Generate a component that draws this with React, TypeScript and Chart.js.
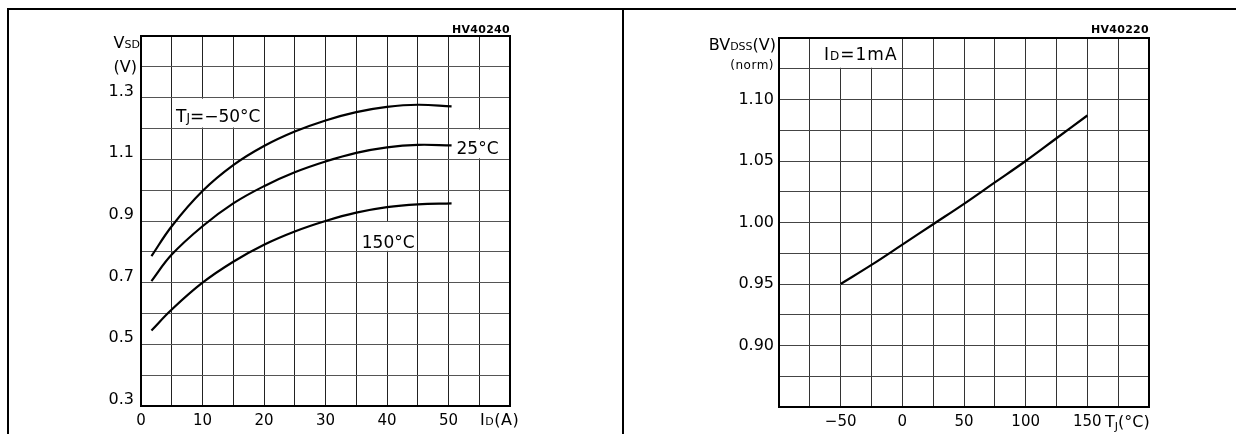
import React, { useEffect, useRef } from 'react';
import { Chart, registerables } from 'chart.js';

Chart.register(...registerables);

// ---------- Left chart data: VSD vs ID ----------
const currentsA = [1.7, 5, 10, 15, 20, 25, 30, 35, 40, 45, 50.5];
const vsdTjM50 = [0.786, 0.883, 0.997, 1.081, 1.143, 1.19, 1.226, 1.253, 1.27, 1.277, 1.272];
const vsdTj25 = [0.705, 0.791, 0.883, 0.957, 1.013, 1.058, 1.093, 1.121, 1.139, 1.147, 1.145];
const vsdTj150 = [0.545, 0.613, 0.7, 0.768, 0.823, 0.866, 0.9, 0.927, 0.945, 0.954, 0.957];
const xTickLabelsA = [0, 10, 20, 30, 40, 50];
const yTickLabelsV = [0.3, 0.5, 0.7, 0.9, 1.1, 1.3];

// ---------- Right chart data: BVDSS (norm) vs TJ ----------
const tempsC = [-50, -25, 0, 25, 50, 75, 100, 125, 150];
const bvdssNorm = [0.95, 0.9655, 0.982, 0.9986, 1.0152, 1.0326, 1.05, 1.0685, 1.087];
const xTickLabelsC = [-50, 0, 50, 100, 150];
const yTickLabelsBV = [0.9, 0.95, 1.0, 1.05, 1.1];

const FAMILY = '"DejaVu Sans", "Liberation Sans", Arial, sans-serif';

type Part = { t: string; size: number; bold?: boolean; dy?: number };

function drawParts(
  ctx: CanvasRenderingContext2D,
  parts: Part[],
  x: number,
  y: number,
  align: 'left' | 'right',
  spacing = 0
) {
  ctx.save();
  ctx.fillStyle = '#000';
  ctx.textBaseline = 'alphabetic';
  ctx.textAlign = 'left';
  (ctx as any).letterSpacing = spacing + 'px';
  const fontOf = (p: Part) => `${p.bold ? 'bold ' : ''}${p.size}px ${FAMILY}`;
  const widths = parts.map((p) => {
    ctx.font = fontOf(p);
    return ctx.measureText(p.t).width;
  });
  const total = widths.reduce((a, b) => a + b, 0);
  let cx = align === 'right' ? x - total : x;
  parts.forEach((p, i) => {
    ctx.font = fontOf(p);
    ctx.fillText(p.t, cx, y + (p.dy || 0));
    cx += widths[i];
  });
  ctx.restore();
}

function whiteBox(chart: any, x0: number, x1: number, y0: number, y1: number) {
  const { ctx, scales } = chart;
  const px0 = scales.x.getPixelForValue(x0);
  const px1 = scales.x.getPixelForValue(x1);
  const py0 = scales.y.getPixelForValue(y0);
  const py1 = scales.y.getPixelForValue(y1);
  ctx.save();
  ctx.fillStyle = '#fff';
  ctx.fillRect(Math.min(px0, px1) + 1, Math.min(py0, py1) + 1, Math.abs(px1 - px0) - 2, Math.abs(py1 - py0) - 2);
  ctx.restore();
}

function frameTopRight(chart: any) {
  const { ctx, chartArea } = chart;
  ctx.save();
  ctx.strokeStyle = '#000';
  ctx.lineWidth = 2;
  ctx.beginPath();
  ctx.moveTo(chartArea.left - 1, chartArea.top);
  ctx.lineTo(chartArea.right, chartArea.top);
  ctx.lineTo(chartArea.right, chartArea.bottom + 1);
  ctx.stroke();
  ctx.restore();
}

const leftPlugin = {
  id: 'leftDecor',
  beforeDatasetsDraw(chart: any) {
    whiteBox(chart, 5, 20, 1.2, 1.3);
    whiteBox(chart, 50, 60, 1.1, 1.2);
    whiteBox(chart, 35, 45, 0.8, 0.9);
  },
  afterDraw(chart: any) {
    const { ctx, chartArea, scales } = chart;
    frameTopRight(chart);
    const sx = scales.x, sy = scales.y;
    drawParts(ctx, [{ t: 'HV40240', size: 11, bold: true }], chartArea.right, chartArea.top - 3, 'right', 0.3);
    drawParts(ctx, [{ t: 'V', size: 16 }, { t: 'SD', size: 11 }], chartArea.left - 1, 48, 'right');
    drawParts(ctx, [{ t: '(V)', size: 16 }], chartArea.left - 4, 72, 'right');
    drawParts(ctx, [{ t: 'I', size: 16 }, { t: 'D', size: 11 }, { t: '(A)', size: 16 }], chartArea.right - 30, chartArea.bottom + 19, 'left', 0.5);
    drawParts(ctx, [{ t: 'T', size: 17 }, { t: 'J', size: 12 }, { t: '=\u221250°C', size: 17 }], sx.getPixelForValue(5.7), sy.getPixelForValue(1.22), 'left');
    drawParts(ctx, [{ t: '25°C', size: 17 }], sx.getPixelForValue(51.3), sy.getPixelForValue(1.116), 'left');
    drawParts(ctx, [{ t: '150°C', size: 17 }], sx.getPixelForValue(35.9), sy.getPixelForValue(0.814), 'left');
  },
};

const rightPlugin = {
  id: 'rightDecor',
  beforeDatasetsDraw(chart: any) {
    whiteBox(chart, -75, 0, 1.125, 1.15);
  },
  afterDraw(chart: any) {
    const { ctx, chartArea, scales } = chart;
    frameTopRight(chart);
    const sx = scales.x, sy = scales.y;
    drawParts(ctx, [{ t: 'HV40220', size: 11, bold: true }], chartArea.right, chartArea.top - 5, 'right', 0.3);
    drawParts(ctx, [{ t: 'BV', size: 16 }, { t: 'DSS', size: 11 }, { t: '(V)', size: 16 }], chartArea.left - 3, 50, 'right');
    drawParts(ctx, [{ t: '(norm)', size: 12 }], chartArea.left - 5, 69, 'right', 0.5);
    drawParts(ctx, [{ t: 'T', size: 16 }, { t: 'J', size: 11, dy: 3 }, { t: '(°C)', size: 16 }], chartArea.right - 44, chartArea.bottom + 20, 'left');
    drawParts(ctx, [{ t: 'I', size: 17 }, { t: 'D', size: 12 }, { t: '=1mA', size: 17 }], sx.getPixelForValue(-63.5), sy.getPixelForValue(1.132), 'left', 1);
  },
};

const tickFont = { family: FAMILY, size: 15 };

function lineDs(xs: number[], ys: number[]) {
  return {
    data: xs.map((x, i) => ({ x, y: ys[i] })),
    borderColor: '#000',
    borderWidth: 2.2,
    pointRadius: 0,
    fill: false,
    tension: 0.4,
  };
}

function leftConfig(): any {
  return {
    type: 'line',
    data: {
      datasets: [lineDs(currentsA, vsdTjM50), lineDs(currentsA, vsdTj25), lineDs(currentsA, vsdTj150)],
    },
    options: {
      animation: false,
      responsive: false,
      maintainAspectRatio: false,
      events: [],
      layout: { padding: { top: 36, right: 110, left: 0, bottom: 0 } },
      plugins: { legend: { display: false }, tooltip: { enabled: false } },
      scales: {
        x: {
          type: 'linear',
          min: 0,
          max: 60,
          afterFit: (s: any) => { s.height = 28; },
          ticks: {
            stepSize: 5,
            autoSkip: false,
            maxRotation: 0,
            padding: 6,
            color: '#000',
            font: tickFont,
            callback: (v: any) => (xTickLabelsA.includes(Math.round(v)) ? String(Math.round(v)) : ''),
          },
          grid: { color: '#222', lineWidth: 1, drawTicks: false },
          border: { display: true, color: '#000', width: 2 },
        },
        y: {
          type: 'linear',
          min: 0.3,
          max: 1.5,
          afterFit: (s: any) => { s.width = 141; },
          ticks: {
            stepSize: 0.1,
            autoSkip: false,
            padding: 7,
            labelOffset: -6,
            color: '#000',
            font: { family: FAMILY, size: 16 },
            callback: (v: any) => {
              const k = Math.round(v * 10);
              return yTickLabelsV.some((t) => Math.round(t * 10) === k) ? (k / 10).toFixed(1) : '';
            },
          },
          grid: { color: '#555', lineWidth: 1, drawTicks: false },
          border: { display: true, color: '#000', width: 2 },
        },
      },
    },
    plugins: [leftPlugin],
  };
}

function rightConfig(): any {
  return {
    type: 'line',
    data: { datasets: [lineDs(tempsC, bvdssNorm)] },
    options: {
      animation: false,
      responsive: false,
      maintainAspectRatio: false,
      events: [],
      layout: { padding: { top: 38, right: 87, left: 0, bottom: 0 } },
      plugins: { legend: { display: false }, tooltip: { enabled: false } },
      scales: {
        x: {
          type: 'linear',
          min: -100,
          max: 200,
          afterFit: (s: any) => { s.height = 27; },
          ticks: {
            stepSize: 25,
            autoSkip: false,
            maxRotation: 0,
            padding: 6,
            color: '#000',
            font: tickFont,
            callback: (v: any) => {
              const r = Math.round(v);
              if (!xTickLabelsC.includes(r)) return '';
              return r < 0 ? '\u2212' + Math.abs(r) : String(r);
            },
          },
          grid: { color: '#333', lineWidth: 1, drawTicks: false },
          border: { display: true, color: '#000', width: 2 },
        },
        y: {
          type: 'linear',
          min: 0.85,
          max: 1.15,
          afterFit: (s: any) => { s.width = 155; },
          ticks: {
            stepSize: 0.025,
            autoSkip: false,
            padding: 5,
            color: '#000',
            font: { family: FAMILY, size: 16 },
            callback: (v: any) => {
              const k = Math.round(v * 1000);
              return yTickLabelsBV.some((t) => Math.round(t * 1000) === k) ? (k / 1000).toFixed(2) : '';
            },
          },
          grid: { color: '#444', lineWidth: 1, drawTicks: false },
          border: { display: true, color: '#000', width: 2 },
        },
      },
    },
    plugins: [rightPlugin],
  };
}

export default function App() {
  const leftRef = useRef<HTMLCanvasElement | null>(null);
  const rightRef = useRef<HTMLCanvasElement | null>(null);

  useEffect(() => {
    const c1 = new Chart(leftRef.current as HTMLCanvasElement, leftConfig());
    const c2 = new Chart(rightRef.current as HTMLCanvasElement, rightConfig());
    return () => {
      c1.destroy();
      c2.destroy();
    };
  }, []);

  return (
    <div style={{ position: 'fixed', left: 0, top: 0, width: 1236, height: 434, background: '#fff', overflow: 'hidden' }}>
      <canvas ref={leftRef} width={620} height={434} style={{ position: 'absolute', left: 0, top: 0, width: 620, height: 434 }} />
      <canvas ref={rightRef} width={612} height={434} style={{ position: 'absolute', left: 624, top: 0, width: 612, height: 434 }} />
      <div style={{ position: 'absolute', left: 7, top: 8, width: 1229, height: 2, background: '#000' }} />
      <div style={{ position: 'absolute', left: 7, top: 8, width: 2, height: 426, background: '#000' }} />
      <div style={{ position: 'absolute', left: 622, top: 8, width: 2, height: 426, background: '#000' }} />
    </div>
  );
}
